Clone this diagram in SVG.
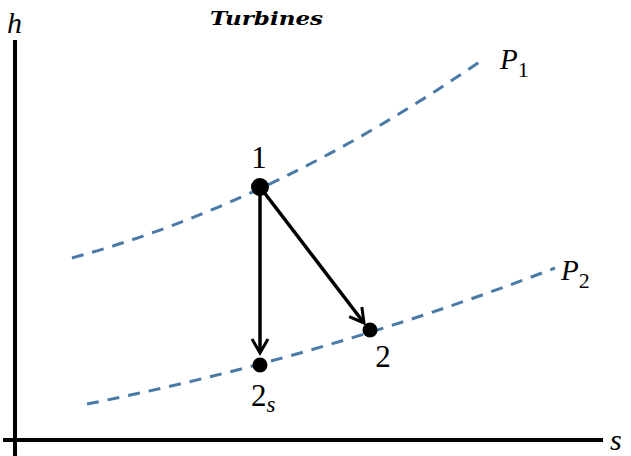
<svg xmlns="http://www.w3.org/2000/svg" width="631" height="456" viewBox="0 0 631 456">
<style>
.axis{stroke:#000;stroke-width:4;fill:none}
.isobar{stroke:#4a7aa8;stroke-width:3;fill:none;stroke-dasharray:12 9}
.proc{stroke:#000;stroke-width:3.5;fill:none}
.lbl{font-family:"Liberation Serif","DejaVu Serif",serif;fill:#000}
.it{font-style:italic}
</style>
<defs>
<marker id="arr" markerUnits="userSpaceOnUse" markerWidth="20" markerHeight="20" viewBox="-16 -10 20 20" refX="0" refY="0" orient="auto">
<path d="M-14,-8 L0,0 L-14,8" fill="none" stroke="#000" stroke-width="3"/>
</marker>
</defs>
<g id="axes">
<line class="axis" x1="15" y1="40" x2="15" y2="456"/>
<line class="axis" x1="3" y1="440" x2="603" y2="440"/>
<text class="lbl it" x="7" y="33" font-size="30">h</text>
<text class="lbl it" x="610" y="450" font-size="30">s</text>
</g>
<g id="title"><text x="210" y="25" font-family="DejaVu Serif, Liberation Serif, serif" font-style="italic" font-weight="bold" font-size="19" textLength="113" lengthAdjust="spacingAndGlyphs">Turbines</text></g>
<g id="isobar-P1">
<path class="isobar" d="M72,258 Q277.5,202 485,58"/>
<text class="lbl it" x="500" y="69" font-size="29">P<tspan font-style="normal" font-size="22" dy="8">1</tspan></text>
</g>
<g id="isobar-P2">
<path class="isobar" d="M87,404 Q321,358 555,268"/>
<text class="lbl it" x="561" y="280" font-size="29">P<tspan font-style="normal" font-size="22" dy="8">2</tspan></text>
</g>
<g id="connectors">
<line class="proc" x1="260" y1="187" x2="260" y2="353" marker-end="url(#arr)"/>
<line class="proc" x1="260" y1="187" x2="364" y2="323" marker-end="url(#arr)"/>
</g>
<g id="state-1">
<circle cx="260" cy="187" r="9" fill="#000"/>
<text class="lbl" x="259" y="168" font-size="31" text-anchor="middle">1</text>
</g>
<g id="state-2s">
<circle cx="260" cy="365" r="7.5" fill="#000"/>
<text class="lbl" x="251" y="406" font-size="31">2<tspan class="it" font-size="23" dy="6">s</tspan></text>
</g>
<g id="state-2">
<circle cx="370" cy="330" r="7.5" fill="#000"/>
<text class="lbl" x="383" y="367" font-size="31" text-anchor="middle">2</text>
</g>
</svg>
